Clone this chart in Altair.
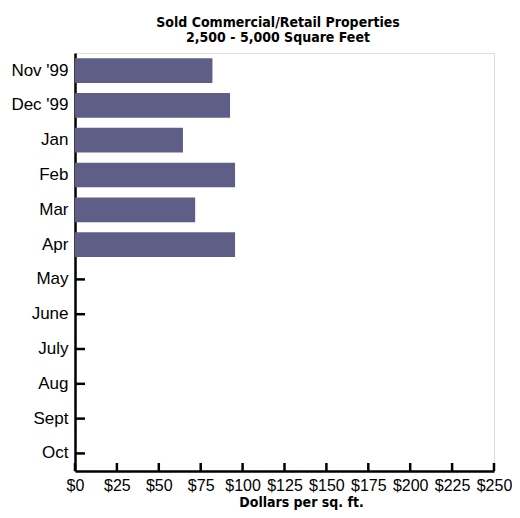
import altair as alt
import pandas as pd

months = ["Nov '99", "Dec '99", "Jan", "Feb", "Mar", "Apr",
          "May", "June", "July", "Aug", "Sept", "Oct"]
values = [82, 92.5, 64.4, 95.5, 71.7, 95.5,
          None, None, None, None, None, None]
x_ticks = [0, 25, 50, 75, 100, 125, 150, 175, 200, 225, 250]

bars_df = pd.DataFrame({"month": months, "value": values}).dropna()
months_df = pd.DataFrame({"month": months})
ticks_df = pd.DataFrame({"t": x_ticks})

W, H = 419, 418
LABEL_FONT = "Liberation Sans"
BOLD_FONT = "DejaVu Sans Condensed"

x_scale = alt.Scale(domain=[0, 250], nice=False)
y_scale = alt.Scale(domain=months, paddingInner=0.29, paddingOuter=0.15)

x_axis = alt.Axis(values=x_ticks, labelExpr="'$' + datum.value", grid=False,
                  ticks=False, domainColor="black", domainWidth=2.5,
                  labelFont=LABEL_FONT, labelFontSize=16, labelColor="black",
                  labelPadding=6, labelFlush=False, labelOverlap=False,
                  title="Dollars per sq. ft.", titleFont=BOLD_FONT,
                  titleFontSize=14, titleFontWeight="bold", titleColor="black",
                  titleX=226, titleY=35, titleBaseline="alphabetic")
y_axis = alt.Axis(grid=False, ticks=False, domainColor="black", domainWidth=2.5,
                  labelFont=LABEL_FONT, labelFontSize=17, labelColor="black",
                  labelPadding=7, title=None)

yticks = alt.Chart(months_df).mark_rule(color="black", strokeWidth=2.5).encode(
    y=alt.Y("month:N", scale=y_scale, sort=months, axis=y_axis),
    x=alt.value(0), x2=alt.value(10),
)
xticks = alt.Chart(ticks_df).mark_rule(color="black", strokeWidth=2.5).encode(
    x=alt.X("t:Q", scale=x_scale, axis=x_axis),
    y=alt.value(H), y2=alt.value(H - 8),
)
bars = alt.Chart(bars_df).mark_bar(color="#5f5e86").encode(
    x=alt.X("value:Q", scale=x_scale, axis=x_axis),
    y=alt.Y("month:N", scale=y_scale, sort=months, axis=y_axis),
)

chart = alt.layer(yticks, xticks, bars).properties(
    width=W, height=H,
    autosize=alt.AutoSizeParams(type="none"),
    padding={"left": 67, "top": 45, "right": 18, "bottom": 39},
    title=alt.TitleParams(
        text=["Sold Commercial/Retail Properties", "2,500 - 5,000 Square Feet"],
        font=BOLD_FONT, fontSize=14, fontWeight="bold", color="black",
        lineHeight=15, frame="group", anchor="middle", dx=-6.5, offset=8,
    ),
).configure_view(strokeWidth=0).configure(background="white")

chart.save("out.html", embed_options={"renderer": "svg", "actions": False})
